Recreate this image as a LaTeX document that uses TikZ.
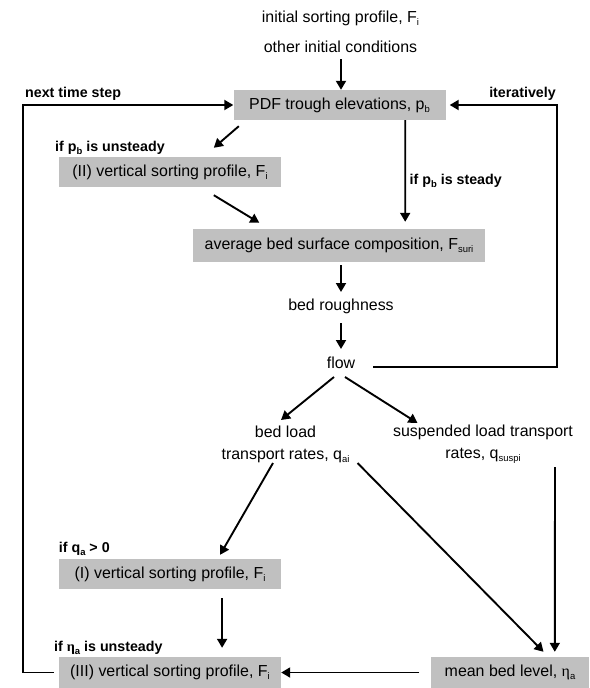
\documentclass[tikz,border=0pt]{standalone}
\usepackage{fontspec}
\setmainfont{Liberation Sans}
\newfontfamily\grkfont{Liberation Serif}
\usetikzlibrary{arrows.meta}
\definecolor{boxgray}{RGB}{192,192,192}
\newcommand{\sbs}[1]{\raisebox{-0.35ex}{\fontsize{9.5}{10}\selectfont #1}}
\newcommand{\myeta}{{\grkfont η}}
\begin{document}
\begin{tikzpicture}[x=1bp,y=-1bp,
  txt/.style={inner sep=0pt, font=\fontsize{16}{22}\selectfont, align=center},
  lbl/.style={inner sep=0pt, font=\bfseries\fontsize{14.3}{16}\selectfont},
  box/.style={fill=boxgray, inner sep=0pt, font=\fontsize{16}{19}\selectfont},
  arr/.style={line width=1.9bp, -{Triangle[length=9bp,width=10bp]}},
  loopline/.style={line width=1.9bp, -{Triangle[length=9bp,width=10bp]}}]
\useasboundingbox (0,0) rectangle (590,688);
% text nodes
\node[txt] (init1) at (340.5,18) {initial sorting profile, F\sbs{i}};
\node[txt] (init2) at (340.5,47) {other initial conditions};
\node[box, minimum width=212bp, minimum height=30bp] (pdf) at (339.5,105) {PDF trough elevations, p\sbs{b}};
\node[box, minimum width=222bp, minimum height=30bp] (II) at (170,172) {(II) vertical sorting profile, F\sbs{i}};
\node[box, minimum width=292bp, minimum height=33bp] (avg) at (339,245.5) {average bed surface composition, F\sbs{suri}};
\node[txt] (rough) at (341,306) {bed roughness};
\node[txt] (flow) at (341,363) {flow};
\node[txt] (bedload) at (285.5,444) {bed load\\transport rates, q\sbs{ai}};
\node[txt] (susp) at (483,444) {suspended load transport\\rates, q\sbs{suspi}};
\node[box, minimum width=222bp, minimum height=30bp] (I) at (170,574) {(I) vertical sorting profile, F\sbs{i}};
\node[box, minimum width=222bp, minimum height=31bp] (III) at (170,672.5) {(III) vertical sorting profile, F\sbs{i}};
\node[box, minimum width=158bp, minimum height=31bp] (mean) at (510,672.5) {mean bed level, \myeta\sbs{a}};
% labels
\node[lbl, anchor=west] (lnext) at (25,94) {next time step};
\node[lbl, anchor=east] (liter) at (556,94) {iteratively};
\node[lbl, anchor=west] (lunst) at (55,148) {if p\sbs{b} is unsteady};
\node[lbl, anchor=west] (lsteady) at (409.5,181) {if p\sbs{b} is steady};
\node[lbl, anchor=west] (lqa) at (58.7,549) {if q\sbs{a} > 0};
\node[lbl, anchor=west] (leta) at (54,648) {if \myeta\sbs{a} is unsteady};
% connectors
\draw[arr] ([shift={(0.5,6)}]init2.south) -- ([xshift=1.5bp]pdf.north);
\draw[arr] ([shift={(5.5,6)}]pdf.south west) -- ([shift={(155,-9)}]II.north west);
\draw[arr] ([shift={(155,8)}]II.south west) -- ([shift={(66.5,-6)}]avg.north west);
\draw[arr] ([shift={(-40.5,0)}]pdf.south east) -- ([shift={(-80,-7)}]avg.north east);
\draw[arr] ([shift={(2,3)}]avg.south) -- ([shift={(0,-14)}]rough.center);
\draw[arr] ([shift={(0,17)}]rough.center) -- ([shift={(0,-14)}]flow.center);
\draw[loopline] ([shift={(32,4)}]flow.center) -| ([shift={(111.5,0)}]pdf.east) -- ([shift={(4,0)}]pdf.east);
\draw[loopline] ([xshift=-5bp]III.west) -- ++(-31,0) |- (pdf.west);
\draw[arr] ([shift={(-7,14)}]flow.center) -- ([shift={(-4.5,-24)}]bedload.center);
\draw[arr] ([shift={(4,14)}]flow.center) -- ([shift={(-65.5,-21)}]susp.center);
\draw[arr] ([shift={(-12.5,19)}]bedload.center) -- ([shift={(161.3,-4)}]I.north west);
\draw[arr] ([shift={(72,19)}]bedload.center) -- ([shift={(112.7,-5)}]mean.north west);
\draw[arr] ([shift={(72,23)}]susp.center) -- ([shift={(124,-5)}]mean.north west);
\draw[arr] ([shift={(163.3,9)}]I.south west) -- ([shift={(163.3,-9)}]III.north west);
\draw[arr] ([shift={(-11.4,0)}]mean.west) -- (III.east);
\end{tikzpicture}
\end{document}
